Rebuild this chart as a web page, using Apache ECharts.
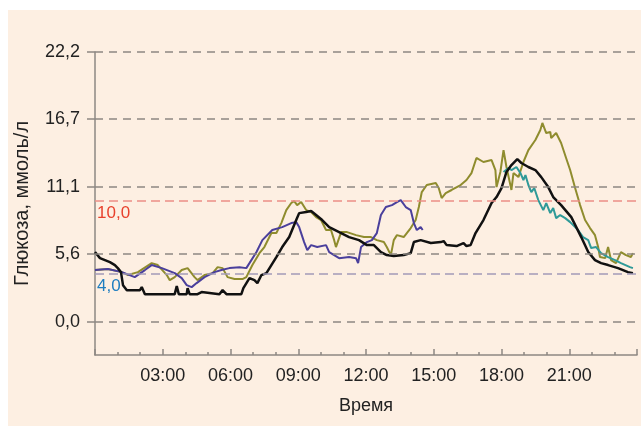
<!DOCTYPE html>
<html>
<head>
<meta charset="utf-8">
<script src="https://cdn.jsdelivr.net/npm/echarts@6/dist/echarts.min.js"></script>
<style>
  html, body { margin: 0; padding: 0; background: #fff; }
  #panel { position: absolute; left: 8px; top: 10px; width: 633px; height: 416px; background: #fdefe2; }
  #chart { position: absolute; left: 0; top: 0; width: 641px; height: 426px; }
</style>
</head>
<body>
<div id="panel"></div>
<div id="chart"></div>
<script>
// время в часах, глюкоза в ммоль/л
var yTicks = [0, 5.6, 11.1, 16.7, 22.2]
var xTicks = [3, 6, 9, 12, 15, 18, 21]

var blackHours = [0, 0.22, 0.66, 0.88, 1.01, 1.15, 1.24, 1.41, 1.99, 2.07, 2.21, 3.53, 3.62, 3.71, 4.06, 4.10, 4.19, 4.54, 4.72, 5.51, 5.65, 5.82, 6.48, 6.57, 6.84, 7.06, 7.19, 7.37, 7.59, 8.03, 8.29, 8.60, 8.91, 9.04, 9.35, 9.57, 9.79, 10.06, 10.37, 10.81, 11.25, 11.69, 12.04, 12.35, 12.66, 12.92, 13.23, 13.67, 13.98, 14.12, 14.42, 14.87, 15.31, 15.44, 15.57, 16.01, 16.32, 16.45, 16.63, 16.85, 17.20, 17.56, 17.78, 18.00, 18.22, 18.44, 18.70, 18.88, 19.19, 19.50, 19.76, 20.07, 20.29, 20.64, 21.09, 21.31, 21.53, 21.84, 22.14, 22.41, 22.72, 23.16, 23.60, 23.82]
var blackValues = [5.76, 5.26, 4.93, 4.69, 4.44, 4.11, 3.04, 2.63, 2.63, 2.88, 2.30, 2.30, 2.96, 2.30, 2.30, 2.80, 2.30, 2.30, 2.47, 2.30, 2.63, 2.30, 2.30, 2.80, 3.62, 3.45, 3.21, 3.87, 4.03, 5.35, 6.17, 6.99, 8.39, 8.96, 9.05, 9.13, 8.80, 8.39, 7.81, 7.40, 6.99, 6.74, 6.33, 6.33, 5.76, 5.51, 5.43, 5.51, 5.67, 6.58, 6.74, 6.50, 6.58, 6.66, 6.33, 6.25, 6.50, 6.25, 6.33, 7.32, 8.39, 9.79, 10.28, 11.02, 12.34, 12.91, 13.40, 13.08, 12.75, 12.50, 11.92, 11.10, 10.28, 9.62, 8.63, 7.81, 6.99, 5.76, 5.10, 4.85, 4.69, 4.44, 4.11, 4.03]

var oliveHours = [0, 0.57, 1.19, 1.46, 1.90, 2.51, 2.78, 3.18, 3.31, 3.53, 3.84, 4.10, 4.41, 4.54, 4.85, 5.21, 5.43, 5.65, 5.87, 6.18, 6.53, 6.70, 6.97, 7.28, 7.50, 7.81, 8.03, 8.25, 8.47, 8.69, 8.82, 8.95, 9.13, 9.35, 9.57, 9.79, 10.01, 10.23, 10.45, 10.59, 10.67, 10.90, 11.16, 11.56, 11.91, 12.22, 12.48, 12.79, 12.92, 13.10, 13.23, 13.37, 13.67, 13.98, 14.20, 14.34, 14.47, 14.69, 15.09, 15.22, 15.35, 15.53, 15.79, 16.19, 16.45, 16.67, 16.89, 17.20, 17.56, 17.73, 17.78, 17.95, 18.09, 18.22, 18.44, 18.53, 18.75, 18.97, 19.19, 19.50, 19.72, 19.81, 19.98, 20.16, 20.20, 20.42, 20.64, 20.86, 21.04, 21.26, 21.48, 21.70, 21.92, 22.14, 22.28, 22.36, 22.59, 22.72, 22.85, 23.07, 23.29, 23.51, 23.73, 23.82]
var oliveValues = [4.28, 4.36, 4.11, 3.87, 4.11, 4.85, 4.69, 3.87, 3.45, 3.70, 4.28, 4.44, 3.70, 3.45, 3.87, 4.03, 4.52, 4.44, 3.70, 3.54, 3.54, 3.70, 4.69, 5.67, 6.17, 7.32, 7.32, 8.14, 9.21, 9.79, 9.95, 9.62, 9.87, 9.21, 9.05, 8.63, 8.39, 7.57, 7.57, 6.74, 6.17, 7.40, 7.40, 7.15, 6.99, 6.99, 6.74, 6.58, 6.17, 5.51, 6.74, 7.15, 6.99, 7.73, 8.39, 9.46, 10.69, 11.27, 11.43, 11.02, 10.20, 10.61, 10.86, 11.27, 11.68, 12.25, 13.49, 13.16, 13.32, 12.50, 11.10, 12.34, 14.14, 12.75, 10.86, 12.25, 11.92, 13.16, 14.14, 14.97, 15.79, 16.37, 15.54, 15.63, 15.13, 15.54, 14.72, 13.49, 12.50, 11.02, 9.62, 8.39, 7.73, 7.15, 6.17, 5.35, 5.26, 6.17, 5.10, 4.85, 5.76, 5.51, 5.35, 5.67]

var purpleHours = [0, 0.57, 1.19, 1.76, 2.21, 2.51, 2.96, 3.53, 3.84, 4.06, 4.28, 4.50, 4.85, 5.29, 5.60, 5.95, 6.40, 6.70, 6.84, 7.15, 7.41, 7.85, 8.29, 8.69, 8.91, 9.04, 9.26, 9.40, 9.57, 9.84, 10.23, 10.37, 10.81, 11.25, 11.56, 11.65, 11.78, 12.04, 12.26, 12.48, 12.66, 12.88, 13.15, 13.37, 13.54, 13.76, 13.98, 14.12, 14.25, 14.42, 14.51]
var purpleValues = [4.28, 4.36, 4.11, 3.70, 4.28, 4.69, 4.44, 4.03, 3.62, 3.04, 2.88, 3.21, 3.70, 4.11, 4.28, 4.44, 4.52, 4.44, 4.85, 5.76, 6.74, 7.57, 7.81, 8.14, 8.22, 7.81, 6.58, 5.92, 6.33, 6.17, 6.33, 5.76, 5.26, 5.35, 5.26, 4.85, 6.17, 6.58, 6.74, 7.32, 8.80, 9.46, 9.62, 9.87, 10.03, 9.46, 9.21, 8.14, 7.57, 7.81, 7.57]

var tealHours = [18.09, 18.31, 18.44, 18.66, 18.84, 18.97, 19.06, 19.19, 19.32, 19.45, 19.63, 19.85, 19.98, 20.16, 20.29, 20.42, 20.60, 20.82, 21.04, 21.26, 21.39, 21.61, 21.84, 21.97, 22.19, 22.41, 22.72, 23.03, 23.29, 23.69, 23.82]
var tealValues = [12.34, 12.66, 12.50, 12.75, 12.25, 11.68, 12.09, 11.27, 10.69, 11.02, 10.03, 9.21, 9.79, 8.96, 9.38, 8.55, 8.80, 8.55, 8.22, 7.81, 7.57, 6.99, 6.74, 6.09, 6.17, 5.67, 5.35, 5.10, 4.85, 4.52, 4.44]

var upperLimit = 10.0
var lowerLimit = 4.0

function pairs(xs, ys) {
    return xs.map(function (x, i) { return [x, ys[i]] })
}
function comma(v) {
    return v.toFixed(1).replace('.', ',')
}

var font = '"Liberation Sans", Arial, sans-serif'
var grayDash = { color: '#8d8883', width: 1.5, type: [8, 6] }

var myChart = echarts.init(document.getElementById('chart'))
myChart.setOption({
    backgroundColor: 'transparent',
    animation: false,
    grid: { left: 95, right: 4, top: 52, bottom: 71 },
    xAxis: {
        type: 'value',
        min: 0,
        max: 24,
        interval: 3,
        name: 'Время',
        nameLocation: 'middle',
        nameGap: 42,
        nameTextStyle: { fontFamily: font, fontSize: 18, color: '#222' },
        axisLine: { onZero: false, lineStyle: { color: '#8d8883', width: 1.5 } },
        axisTick: { inside: true, length: 6, lineStyle: { color: '#8d8883', width: 1.5 } },
        minorTick: { show: true, splitNumber: 3, length: 3, lineStyle: { color: '#8d8883', width: 1.5 } },
        splitLine: { show: false },
        axisLabel: {
            margin: 12,
            fontFamily: font, fontSize: 18, color: '#222',
            formatter: function (v) {
                return xTicks.indexOf(v) >= 0 ? (v < 10 ? '0' : '') + v + ':00' : ''
            }
        }
    },
    yAxis: {
        type: 'value',
        min: -2.7,
        max: 22.2,
        name: 'Глюкоза, ммоль/л',
        nameLocation: 'middle',
        nameGap: 63,
        nameRotate: 90,
        nameTextStyle: { fontFamily: font, fontSize: 20, color: '#222' },
        axisLine: { show: true, lineStyle: { color: '#8d8883', width: 1.5 } },
        axisTick: { show: true, length: 8, customValues: yTicks, lineStyle: { color: '#8d8883', width: 1.5 } },
        splitLine: { show: false },
        axisLabel: {
            margin: 15,
            customValues: yTicks,
            fontFamily: font, fontSize: 18, color: '#222',
            formatter: function (v) { return comma(v) }
        }
    },
    series: [
        {
            name: 'grid',
            type: 'line',
            data: [],
            silent: true,
            markLine: {
                symbol: 'none',
                silent: true,
                animation: false,
                data: yTicks.map(function (v) {
                    return { yAxis: v, lineStyle: grayDash, label: { show: false } }
                }).concat([
                    {
                        yAxis: upperLimit,
                        lineStyle: { color: '#ec8f86', width: 1.5, type: [9, 5] },
                        label: {
                            show: true, position: 'insideStartBottom', formatter: comma(upperLimit),
                            color: '#e8412c', fontFamily: font, fontSize: 17, distance: [2, 4]
                        }
                    },
                    {
                        yAxis: lowerLimit,
                        lineStyle: { color: '#a29ab8', width: 1.5, type: [9, 5] },
                        label: {
                            show: true, position: 'insideStartBottom', formatter: comma(lowerLimit),
                            color: '#1e7dc0', fontFamily: font, fontSize: 17, distance: [2, 4]
                        }
                    }
                ])
            }
        },
        {
            name: 'olive', type: 'line', showSymbol: false,
            data: pairs(oliveHours, oliveValues),
            lineStyle: { color: '#8f8c2e', width: 2 }
        },
        {
            name: 'purple', type: 'line', showSymbol: false,
            data: pairs(purpleHours, purpleValues),
            lineStyle: { color: '#4a3f9c', width: 2 }
        },
        {
            name: 'teal', type: 'line', showSymbol: false,
            data: pairs(tealHours, tealValues),
            lineStyle: { color: '#2f9a98', width: 2 }
        },
        {
            name: 'black', type: 'line', showSymbol: false,
            data: pairs(blackHours, blackValues),
            lineStyle: { color: '#111111', width: 2.5 }
        }
    ]
})
</script>
</body>
</html>
